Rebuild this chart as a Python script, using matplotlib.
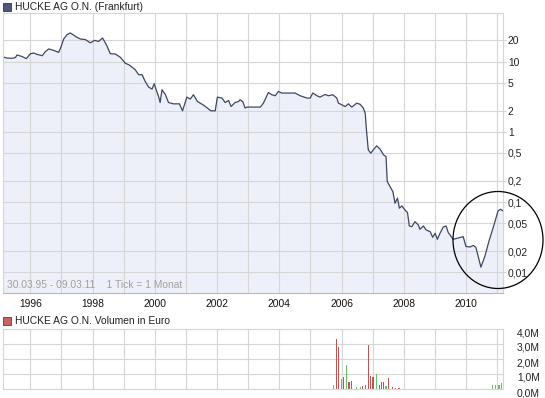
import matplotlib

matplotlib.use("Agg")
import matplotlib.pyplot as plt
from matplotlib.patches import Ellipse, Rectangle
from matplotlib.transforms import ScaledTranslation

plt.rcParams["font.family"] = ["Liberation Sans", "DejaVu Sans"]

# price history (decimal year, EUR)
price_years = [
    1995.13, 1995.25, 1995.41, 1995.52, 1995.57, 1995.73, 1995.87, 1996.00, 1996.11, 1996.22,
    1996.38, 1996.48, 1996.59, 1996.75, 1996.91, 1996.99, 1997.07, 1997.18, 1997.28, 1997.37,
    1997.48, 1997.61, 1997.77, 1997.93, 1998.06, 1998.19, 1998.32, 1998.44, 1998.57, 1998.73,
    1998.89, 1999.05, 1999.16, 1999.21, 1999.37, 1999.48, 1999.59, 1999.69, 1999.80, 1999.91,
    1999.98, 2000.05, 2000.12, 2000.17, 2000.23, 2000.34, 2000.44, 2000.60, 2000.79, 2000.89,
    2001.03, 2001.14, 2001.24, 2001.37, 2001.55, 2001.69, 2001.80, 2001.94, 2002.01, 2002.16,
    2002.26, 2002.37, 2002.45, 2002.58, 2002.69, 2002.74, 2002.83, 2002.90, 2002.96, 2003.39,
    2003.49, 2003.65, 2003.76, 2003.87, 2003.97, 2004.08, 2004.19, 2004.51, 2004.67, 2004.89,
    2004.99, 2005.08, 2005.21, 2005.31, 2005.47, 2005.58, 2005.72, 2005.85, 2005.90, 2006.01,
    2006.12, 2006.22, 2006.33, 2006.49, 2006.60, 2006.70, 2006.76, 2006.81, 2006.86, 2006.94,
    2007.02, 2007.13, 2007.24, 2007.35, 2007.43, 2007.47, 2007.56, 2007.65, 2007.72, 2007.80,
    2007.86, 2007.94, 2008.04, 2008.12, 2008.18, 2008.26, 2008.36, 2008.47, 2008.52, 2008.63,
    2008.72, 2008.85, 2008.93, 2009.01, 2009.08, 2009.17, 2009.27, 2009.36, 2009.43, 2009.59,
    2009.75, 2009.91, 2010.00, 2010.13, 2010.24, 2010.32, 2010.48, 2010.61, 2010.74, 2010.90,
    2011.03, 2011.11, 2011.19,
]
prices = [
    11.6, 11.2, 11.1, 11.4, 12.4, 11.8, 11.0, 12.9, 13.2, 12.6,
    12.1, 13.8, 15.1, 14.4, 13.5, 16.4, 20.9, 24.1, 25.5, 24.1,
    22.3, 20.9, 20.5, 18.4, 20.0, 19.3, 21.6, 17.4, 12.9, 12.8,
    11.5, 9.46, 9.0, 8.71, 7.64, 6.49, 6.49, 5.21, 4.33, 4.06,
    4.83, 3.88, 3.18, 2.61, 3.97, 3.37, 2.61, 2.50, 2.50, 1.99,
    3.12, 2.92, 3.37, 2.70, 2.42, 2.18, 1.99, 1.99, 3.12, 3.02,
    2.61, 2.79, 2.29, 2.61, 2.70, 2.86, 2.67, 2.18, 2.25, 2.25,
    2.56, 3.63, 3.37, 3.26, 3.75, 3.56, 3.56, 3.56, 3.26, 3.02,
    3.02, 3.56, 3.26, 3.12, 3.40, 3.26, 3.37, 3.02, 2.56, 2.42,
    2.29, 2.50, 2.25, 2.56, 2.46, 2.18, 1.85, 0.958, 0.554, 0.497,
    0.554, 0.632, 0.567, 0.470, 0.445, 0.196, 0.166, 0.141, 0.0964, 0.114,
    0.0819, 0.0883, 0.0774, 0.0709, 0.0458, 0.0448, 0.0528, 0.0473, 0.0411, 0.0458,
    0.0402, 0.0380, 0.0316, 0.0361, 0.0296, 0.0364, 0.0443, 0.0458, 0.0370, 0.0296,
    0.0309, 0.0323, 0.0234, 0.0230, 0.0242, 0.0226, 0.0119, 0.0171, 0.0280, 0.0473,
    0.0749, 0.0792, 0.0749,
]

# turnover in million Euro
vol_years = [
    2005.74, 2005.85, 2005.91, 2006.01, 2006.07, 2006.17, 2006.24, 2006.32, 2006.49, 2006.61,
    2006.68, 2006.76, 2006.86, 2006.93, 2007.01, 2007.12, 2007.21, 2007.29, 2007.34, 2007.43,
    2007.51, 2007.63, 2007.74, 2007.85, 2010.85, 2010.96, 2011.06, 2011.15,
]
vol_values = [
    0.3, 3.33, 2.8, 0.65, 0.8, 1.58, 0.45, 0.55, 0.15, 0.15,
    0.2, 0.25, 2.93, 0.89, 0.82, 0.98, 0.25, 0.46, 0.5, 0.2,
    0.71, 0.12, 0.1, 0.05, 0.25, 0.25, 0.3, 0.4,
]
vol_up = [
    True, False, False, True, False, True, False, False, True, True,
    False, False, False, False, False, True, False, False, False, True,
    False, False, False, False, True, True, True, True,
]

price_ticks = [20, 10, 5, 2, 1, 0.5, 0.2, 0.1, 0.05, 0.02, 0.01]
price_labels = ["20", "10", "5", "2", "1", "0,5", "0,2", "0,1", "0,05", "0,02", "0,01"]
year_ticks = list(range(1996, 2011, 2))
vol_ticks = [0, 1, 2, 3, 4]
vol_labels = ["0,0M", "1,0M", "2,0M", "3,0M", "4,0M"]

W, H = 545, 398
GRID = "#d6d6d6"
LINE = "#3c4764"
FILL = "#eef0f9"


def fx(px):
    return px / W


def fy(py):
    return 1 - py / H


fig = plt.figure(figsize=(W / 100, H / 100), dpi=100)
ax = fig.add_axes([fx(3), fy(293), fx(503) - fx(3), fy(13) - fy(293)])
axv = fig.add_axes([fx(3), fy(389), fx(503) - fx(3), fy(329) - fy(389)])

x0, x1 = 1995.12, 2011.19
ymin, ymax = 0.0051, 49.0

# price panel
ax.fill_between(price_years, prices, ymin, color=FILL, lw=0)
ax.plot(price_years, prices, color=LINE, lw=0.9)
ax.set_yscale("log")
ax.set_xlim(x0, x1)
ax.set_ylim(ymin, ymax)
ax.set_yticks(price_ticks)
ax.set_yticklabels(price_labels)
ax.yaxis.set_minor_locator(plt.NullLocator())
ax.yaxis.tick_right()
ax.set_xticks(year_ticks)
ax.set_xticks(range(1996, 2012), minor=True)
ax.grid(True, which="both", axis="x", color=GRID, lw=0.8)
ax.grid(True, which="major", axis="y", color=GRID, lw=0.8)
ax.tick_params(axis="y", length=2, pad=1.5, color=GRID, labelsize=7.4, labelcolor="#222222")
ax.tick_params(axis="x", which="both", length=0, pad=4, labelsize=7.4, labelcolor="#111111")
for s in ["left", "top", "right"]:
    ax.spines[s].set_color(GRID)
    ax.spines[s].set_linewidth(0.8)
ax.spines["bottom"].set_color("#b8b8b8")
ax.spines["bottom"].set_linewidth(0.8)
ax.text(0.008, 0.012, "30.03.95 - 09.03.11    1 Tick = 1 Monat", transform=ax.transAxes,
        fontsize=7.4, color="#a0a0a0", va="bottom", ha="left")

# volume panel
vol_colors = ["#66c266" if up else "#c05454" for up in vol_up]
axv.bar(vol_years, vol_values, width=0.04, color=vol_colors, lw=0)
axv.set_xlim(x0, x1)
axv.set_ylim(0, 4)
axv.set_yticks(vol_ticks)
axv.set_yticklabels(vol_labels)
axv.yaxis.tick_right()
axv.set_xticks(range(1996, 2012))
axv.set_xticklabels([])
axv.grid(True, color=GRID, lw=0.8)
axv.set_axisbelow(True)
axv.tick_params(axis="y", length=0, pad=10, labelsize=7.4, labelcolor="#222222")
axv.tick_params(axis="x", length=0)
for lab in axv.get_yticklabels():
    lab.set_transform(lab.get_transform() + ScaledTranslation(0, -3 / 100, fig.dpi_scale_trans))
for s in axv.spines.values():
    s.set_color(GRID)
    s.set_linewidth(0.8)

# legend headers
fig.patches.append(Rectangle((fx(3), fy(11)), fx(8), 8 / H, transform=fig.transFigure,
                             facecolor="#4e5878", edgecolor="#2e3448", lw=0.6))
fig.text(fx(15), fy(7), "HUCKE AG O.N. (Frankfurt)", fontsize=7.4, color="#222222", va="center")
fig.patches.append(Rectangle((fx(3), fy(325)), fx(8), 8 / H, transform=fig.transFigure,
                             facecolor="#c86464", edgecolor="#7a3030", lw=0.6))
fig.text(fx(15), fy(321), "HUCKE AG O.N. Volumen in Euro", fontsize=7.4, color="#222222",
         va="center")

# hand-drawn circle around the recent rebound
fig.patches.append(Ellipse((fx(498), fy(240)), fx(90), 97 / H, transform=fig.transFigure,
                           fill=False, edgecolor="black", lw=0.9))

fig.savefig("out.png", dpi=100)
